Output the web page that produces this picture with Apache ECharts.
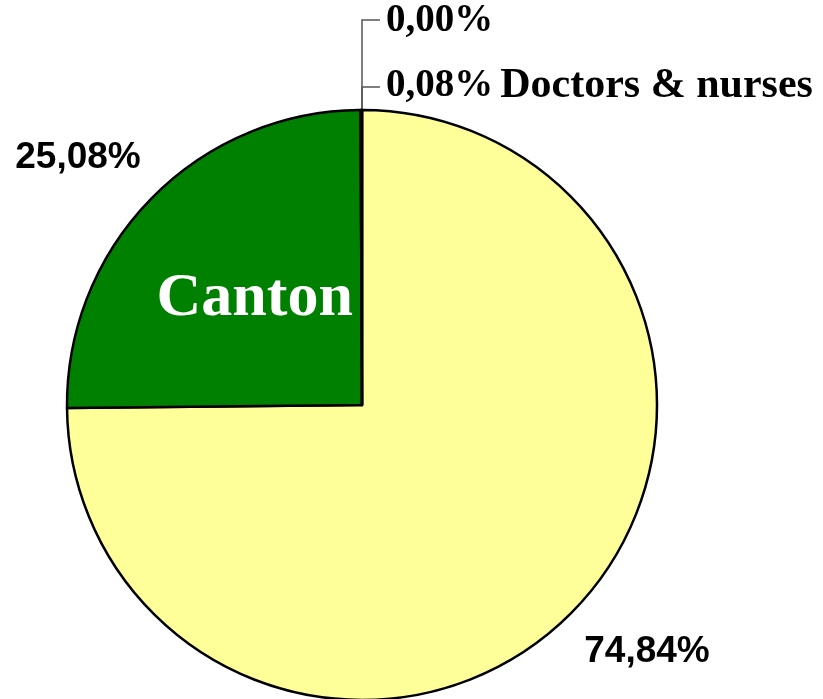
<!DOCTYPE html>
<html lang="en">
<head>
    <meta charset="UTF-8">
    <title>Canton</title>
    <script src="https://cdn.jsdelivr.net/npm/echarts@6.0.0/dist/echarts.min.js"></script>
</head>
<body style="margin:0;background:#fff;">

    <div id="main" style="width: 823px;height:699px;"></div>

    <script type="text/javascript">

      // slice names and shares (%)
      var sliceNames = ['Other', 'Canton', 'Doctors & nurses', 'Unknown']
      var sliceValues = [74.84, 25.08, 0.08, 0.00]
      var sliceColors = ['#ffff99', '#008000', '#3366ff', '#ff0000']

      function pct(v) {
        return v.toFixed(2).replace('.', ',') + '%'
      }

      var pieData = sliceNames.map(function (name, i) {
        return {
          name: name,
          value: sliceValues[i],
          itemStyle: { color: sliceColors[i] },
          labelLine: { show: i >= 2 }
        }
      })

      // where each percentage label sits
      var labelSpots = [
        { x: 647, y: 652, align: 'center', verticalAlign: 'middle' },
        { x: 78, y: 158, align: 'center', verticalAlign: 'middle' },
        { x: 386, y: 86, align: 'left', verticalAlign: 'middle', labelLinePoints: [[362, 110], [362, 87], [380, 87]] },
        { x: 386, y: 21, align: 'left', verticalAlign: 'middle', labelLinePoints: [[362, 110], [362, 20], [380, 20]] }
      ]

      var myChart = echarts.init(document.getElementById('main'));

      var option = {
        animation: false,
        series: [
          {
            type: 'pie',
            center: [362, 405],
            radius: 295,
            startAngle: 90,
            clockwise: true,
            data: pieData,
            itemStyle: { borderColor: '#000', borderWidth: 2.5 },
            label: {
              show: true,
              overflow: 'none',
              formatter: function (p) {
                if (p.dataIndex === 2) return '{p|' + pct(p.value) + '}{n|' + p.name + '}'
                if (p.dataIndex === 3) return '{p|' + pct(p.value) + '}'
                return '{s|' + pct(p.value) + '}'
              },
              rich: {
                s: { fontFamily: 'Liberation Sans', fontWeight: 'bold', fontSize: 37, color: '#000' },
                p: { fontFamily: 'Liberation Serif', fontWeight: 'bold', fontSize: 39, color: '#000', padding: [0, 7, 0, 0] },
                n: { fontFamily: 'Liberation Serif', fontWeight: 'bold', fontSize: 42, color: '#000' }
              }
            },
            labelLine: { lineStyle: { color: '#555', width: 1.5 } },
            labelLayout: function (params) {
              return labelSpots[params.dataIndex]
            }
          },
          {
            // "Canton" written inside the green slice
            type: 'pie',
            center: [362, 405],
            radius: 295,
            startAngle: 90,
            clockwise: true,
            silent: true,
            data: pieData.map(function (d) {
              return { name: d.name, value: d.value }
            }),
            itemStyle: { color: 'transparent', borderWidth: 0 },
            label: {
              position: 'inner',
              overflow: 'none',
              formatter: function (p) { return p.dataIndex === 1 ? p.name : '' },
              fontFamily: 'Liberation Serif',
              fontWeight: 'bold',
              fontSize: 62,
              color: '#fff'
            },
            labelLine: { show: false }
          }
        ]
      };

      myChart.setOption(option);

    </script>
  </body>
</html>
